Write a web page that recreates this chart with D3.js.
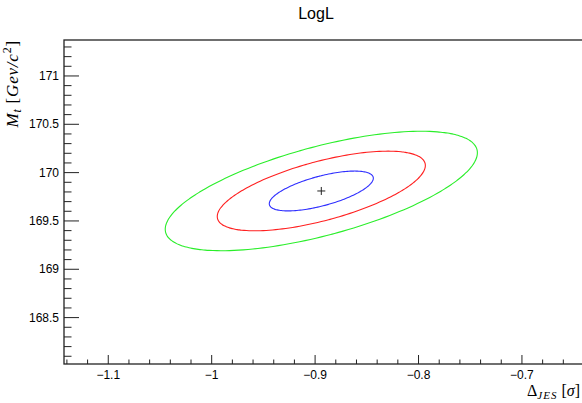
<!DOCTYPE html>
<html>
<head>
<meta charset="utf-8">
<script src="https://cdn.jsdelivr.net/npm/d3@7"></script>
<style>
  body { margin: 0; background: #fff; }
  svg { display: block; }
  text { font-family: "Liberation Sans", Arial, sans-serif; }
  .math { font-family: "Liberation Serif", "Times New Roman", serif; }
</style>
</head>
<body>
<div id="chart"></div>
<script>
// Data
const xTicks = [-1.1, -1, -0.9, -0.8, -0.7];
const yTicks = [168.5, 169, 169.5, 170, 170.5, 171];
const xRange = [-1.1428, -0.64];
const yRange = [168.02, 171.372];
// best fit point and 1-sigma widths / correlation of the LogL contours
const bestFit = [-0.894, 169.81];
const sigmaX = 0.0503;
const sigmaY = 0.206;
const rho = 0.64;
const contourLevels = [1, 2, 3];

// Styles
const levelColor = { 1: "#2f2fff", 2: "#ff2020", 3: "#2aee2a" };

const width = 582;
const height = 403;
const margin = { top: 40, right: -2, bottom: 39, left: 64 };

const svg = d3.select("#chart").append("svg")
    .attr("width", width)
    .attr("height", height);

const x = d3.scaleLinear().domain(xRange).range([margin.left, width - margin.right]);
const y = d3.scaleLinear().domain(yRange).range([height - margin.bottom, margin.top]);

// Contours
const angles = d3.range(0, 360, 2).map(a => a * Math.PI / 180);
const line = d3.line()
    .x(d => x(d[0]))
    .y(d => y(d[1]))
    .curve(d3.curveCardinalClosed);

contourLevels.forEach(n => {
    const pts = angles.map(t => [
        bestFit[0] + n * sigmaX * Math.cos(t),
        bestFit[1] + n * sigmaY * (rho * Math.cos(t) + Math.sqrt(1 - rho * rho) * Math.sin(t))
    ]);
    svg.append("path")
        .attr("d", line(pts))
        .attr("fill", "none")
        .attr("stroke", levelColor[n])
        .attr("stroke-width", 1.1);
});

// best fit marker
const mx = x(bestFit[0]), my = y(bestFit[1]);
svg.append("path")
    .attr("d", `M${mx - 4},${my}H${mx + 4}M${mx},${my - 4}V${my + 4}`)
    .attr("stroke", "#222")
    .attr("stroke-width", 1);

// Frame
const x0 = margin.left, x1 = width - margin.right;
const y0 = margin.top, y1 = height - margin.bottom;
svg.append("rect")
    .attr("x", x0).attr("y", y0)
    .attr("width", x1 - x0).attr("height", y1 - y0)
    .attr("fill", "none")
    .attr("stroke", "#222")
    .attr("stroke-width", 1.3);

// X axis ticks (drawn inward)
const xMinor = d3.range(-1.14, -0.64, 0.02).map(v => +v.toFixed(2));
svg.append("g").selectAll("line")
    .data(xMinor)
    .join("line")
    .attr("x1", d => x(d)).attr("x2", d => x(d))
    .attr("y1", y1)
    .attr("y2", d => xTicks.some(t => Math.abs(t - d) < 1e-6) ? y1 - 9 : y1 - 4.5)
    .attr("stroke", "#222");

svg.append("g").selectAll("text")
    .data(xTicks)
    .join("text")
    .attr("x", d => x(d))
    .attr("y", y1 + 15)
    .attr("text-anchor", "middle")
    .attr("font-size", 12)
    .text(d => d3.format(".1~f")(d).replace("-", "\u2212"));

// Y axis ticks
const yMinor = d3.range(168.1, 171.35, 0.1).map(v => +v.toFixed(1));
svg.append("g").selectAll("line")
    .data(yMinor)
    .join("line")
    .attr("y1", d => y(d)).attr("y2", d => y(d))
    .attr("x1", x0)
    .attr("x2", d => yTicks.some(t => Math.abs(t - d) < 1e-6) ? x0 + 15 : x0 + 7.5)
    .attr("stroke", "#222");

svg.append("g").selectAll("text")
    .data(yTicks)
    .join("text")
    .attr("x", x0 - 5)
    .attr("y", d => y(d))
    .attr("dy", "0.35em")
    .attr("text-anchor", "end")
    .attr("font-size", 12)
    .text(d => d3.format("~f")(d));

// Title
svg.append("text")
    .attr("x", 316)
    .attr("y", 19)
    .attr("text-anchor", "middle")
    .attr("font-size", 16)
    .text("LogL");

// X axis title
const xt = svg.append("text")
    .attr("class", "math")
    .attr("x", 580)
    .attr("y", 396)
    .attr("text-anchor", "end")
    .attr("font-size", 16);
xt.append("tspan").text("\u0394");
xt.append("tspan").attr("font-style", "italic").attr("font-size", 11).attr("dy", 3).attr("letter-spacing", 1).text("JES");
xt.append("tspan").attr("dy", -3).text(" [");
xt.append("tspan").attr("font-style", "italic").text("\u03c3");
xt.append("tspan").text("]");

// Y axis title
const yt = svg.append("text")
    .attr("class", "math")
    .attr("transform", `translate(18,${y0}) rotate(-90)`)
    .attr("text-anchor", "end")
    .attr("font-size", 17)
    .attr("letter-spacing", 0.8);
yt.append("tspan").attr("font-style", "italic").text("M");
yt.append("tspan").attr("font-style", "italic").attr("font-size", 12).attr("dy", 3).text("t");
yt.append("tspan").attr("dy", -3).text(" [");
yt.append("tspan").attr("font-style", "italic").text("Gev/c");
yt.append("tspan").attr("font-size", 12).attr("dy", -7).text("2");
yt.append("tspan").attr("dy", 7).text("]");
</script>
</body>
</html>
